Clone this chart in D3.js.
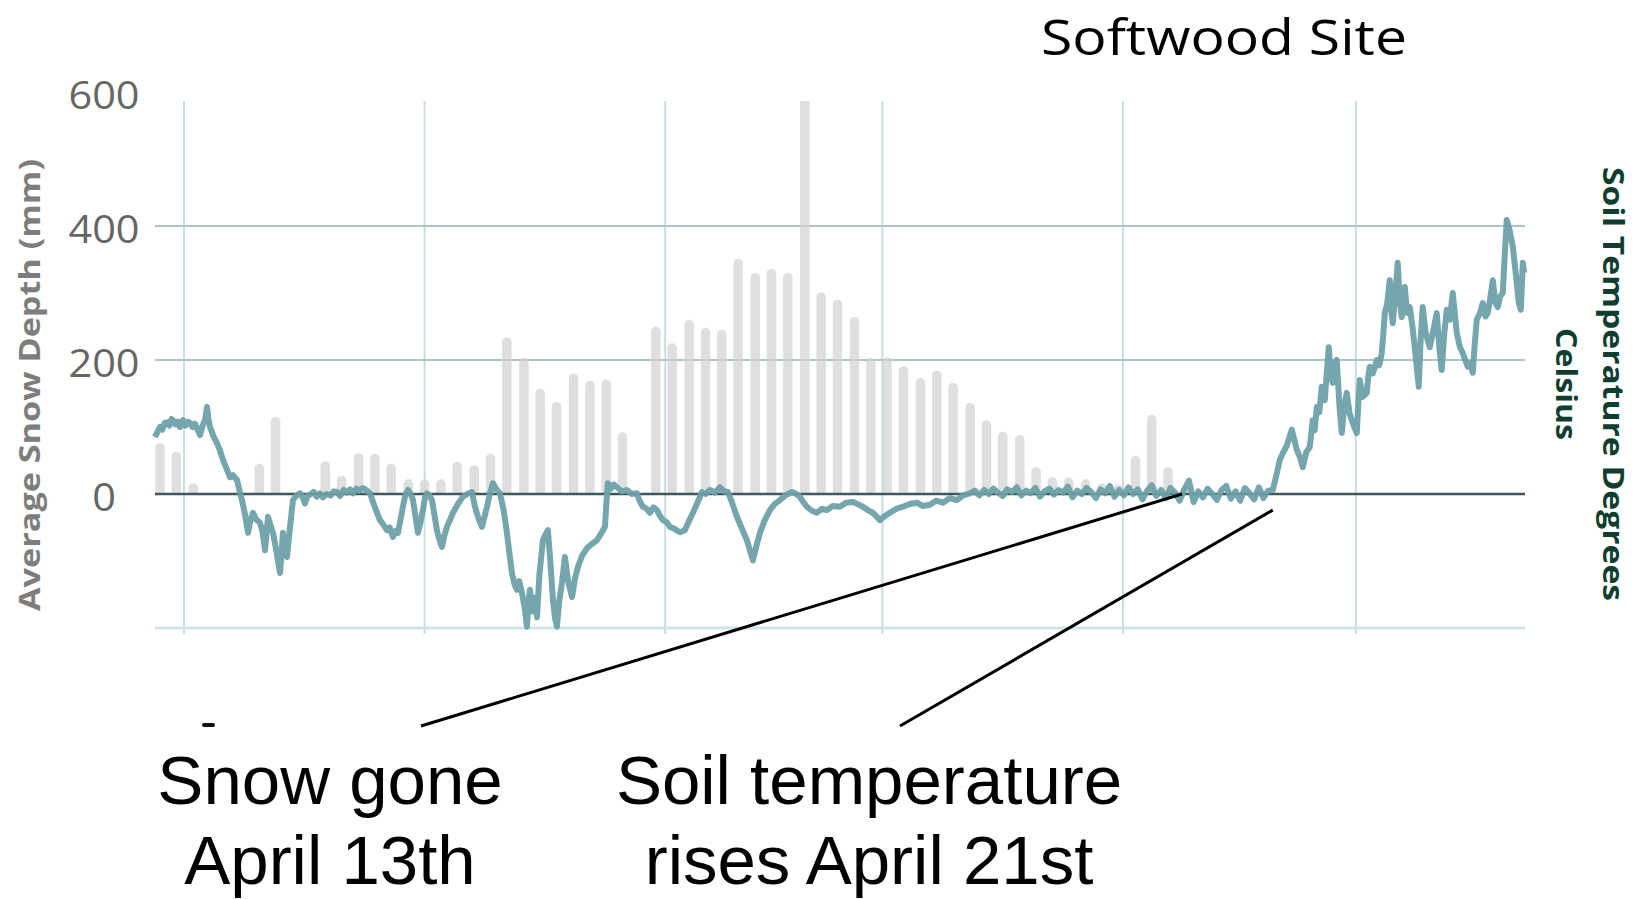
<!DOCTYPE html>
<html>
<head>
<meta charset="utf-8">
<script src="https://d3js.org/d3.v7.min.js"></script>
<style>
  html, body { margin: 0; padding: 0; background: #fff; }
  svg { display: block; }
</style>
</head>
<body>
<script>
// snow depth readings (days after Dec 1 2016, mm)
var snowDay = [-3.1, -1.0, 1.2, 9.7, 11.8,
  18.2, 20.3, 22.5, 24.6, 26.7, 28.9, 31.0, 33.1, 35.2, 37.4, 39.5, 41.6, 43.8, 45.9, 48.0, 50.2, 52.3, 54.4, 56.5,
  60.8, 62.9, 65.1, 67.2, 69.3, 71.4, 73.6, 75.7, 77.8, 80.0, 82.1, 84.2, 86.4, 88.5, 90.6, 92.7, 94.9, 97.0, 99.1,
  101.3, 103.4, 105.5, 107.7, 109.8, 111.9, 114.0, 116.2, 118.3, 120.4, 122.6, 124.7, 126.8, 129.0];
var snowDepth = [76, 63, 16, 45, 115,
  49, 27, 61, 60, 45, 22, 22, 22, 48, 43, 60, 234, 203, 157, 137, 180, 169, 171, 92,
  250, 225, 260, 248, 245, 351, 330, 336, 330, 640, 301, 290, 264, 203, 204, 191, 173, 184, 166,
  136, 110, 93, 88, 40, 25, 25, 22, 16, 14, 57, 118, 40, 12];

// soil temperature (days after Dec 1 2016, degrees C)
var soilDay = [-3.74, -3.45, -3.09, -2.80, -2.50, -2.19, -1.90, -1.60, -1.42, -1.10, -0.80, -0.52, -0.30, -0.13, 0.20, 0.50, 0.77, 1.10, 1.40, 1.67,
  2.06, 2.40, 2.70, 2.96, 3.15, 3.35, 3.80, 4.25, 4.60, 5.02, 5.40, 5.93, 6.30, 6.83, 7.15, 7.47, 7.85, 8.25, 8.55, 8.89,
  9.30, 9.79, 10.10, 10.44, 10.82, 11.10, 11.47, 11.90, 12.37, 12.75, 13.00, 13.27, 13.66, 14.04, 14.50, 14.94, 15.30, 15.59, 15.90, 16.23,
  16.70, 17.10, 17.50, 17.91, 18.40, 18.90, 19.30, 19.71, 20.10, 20.60, 21.00, 21.39, 21.80, 22.20, 22.60, 23.06, 23.50, 23.96, 24.60, 25.25,
  25.70, 26.15, 26.50, 26.93, 27.25, 27.57, 27.90, 28.21, 28.55, 28.86, 29.20, 29.50, 29.85, 30.15, 30.50, 30.79, 31.05, 31.31, 31.60, 31.95,
  32.25, 32.59, 32.90, 33.24, 33.55, 33.88, 34.30, 34.66, 35.30, 35.94, 36.50, 37.10, 37.49, 37.90, 38.39, 38.70, 39.04, 39.40, 39.81, 40.20,
  40.71, 41.20, 41.61, 41.95, 42.26, 42.60, 42.90, 43.20, 43.55, 43.90, 44.19, 44.40, 44.58, 44.90, 45.20, 45.48, 45.80, 46.25, 46.60, 46.89,
  47.20, 47.54, 47.80, 48.05, 48.35, 48.70, 49.08, 49.50, 49.99, 50.40, 50.76, 51.30, 51.92, 52.50, 53.21, 53.70, 54.24, 54.45, 54.62, 55.00,
  55.40, 55.78, 56.40, 57.07, 57.70, 58.36, 58.70, 59.13, 59.60, 60.04, 60.50, 60.94, 61.30, 61.71, 62.20, 62.61, 63.20, 63.90, 64.54, 65.00,
  65.58, 66.20, 66.74, 67.20, 67.77, 68.40, 69.05, 69.60, 70.09, 70.60, 71.24, 71.90, 72.53, 72.95, 73.31, 73.75, 74.21, 74.80, 75.50, 76.10,
  76.78, 77.50, 78.33, 78.90, 79.36, 79.80, 80.26, 80.90, 81.55, 82.20, 82.84, 83.60, 84.51, 85.30, 86.19, 86.80, 87.48, 88.10, 88.77, 89.20,
  89.67, 90.30, 90.96, 91.80, 92.63, 93.50, 94.43, 95.20, 96.11, 96.90, 97.78, 98.70, 99.59, 100.40, 101.26,
  101.9, 102.5, 103.1, 103.7, 104.3, 104.9, 105.5, 106.1, 106.7, 107.3, 107.9, 108.5, 109.1, 109.7, 110.3, 110.9, 111.5, 112.1, 112.7, 113.3,
  113.9, 114.5, 115.1, 115.7, 116.3, 116.9, 117.5, 118.1, 118.7, 119.3, 119.9, 120.5, 121.1, 121.7, 122.3, 122.9, 123.5, 124.1, 124.7, 125.3,
  125.9, 126.5, 127.1, 127.7, 128.3, 128.9, 129.5, 130.1, 130.7, 131.3, 131.9, 132.5, 133.1, 133.7, 134.3, 134.9, 135.5, 136.1, 136.7, 137.3,
  137.9, 138.5, 139.1, 139.7, 140.30,
  140.80, 141.20, 141.59, 142.10, 142.75, 143.39, 143.80, 144.16, 144.60, 145.06, 145.45, 145.70, 145.97, 146.30, 146.61, 147.00, 147.25, 147.51, 147.80, 148.03,
  148.30, 148.54, 148.90, 149.19, 149.50, 149.83, 150.20, 150.48, 150.80, 151.12, 151.30, 151.51, 151.90, 152.41, 152.60, 152.80, 153.20, 153.70, 154.00, 154.34,
  154.55, 154.73, 155.05, 155.37, 155.60, 155.76, 156.10, 156.40, 156.65, 156.92, 157.10, 157.31, 157.60, 157.95, 158.30, 158.59, 158.85, 159.11, 159.35, 159.62,
  160.00, 160.53, 161.00, 161.43, 161.75, 162.07, 162.40, 162.72, 163.10, 163.49, 163.75, 164.01, 164.40, 164.78, 165.10, 165.42, 165.75, 166.07, 166.30, 166.58,
  167.00, 167.36, 167.70, 168.00, 168.30, 168.65, 169.00, 169.29, 169.60, 169.94, 170.20, 170.45, 170.80, 171.23, 171.70, 172.00, 172.26, 172.52, 172.70];
var soilTemp = [0.85, 0.92, 1.00, 0.96, 1.06, 1.07, 1.02, 1.12, 1.10, 1.04, 1.08, 1.00, 1.08, 1.10, 1.02, 1.08, 1.06, 1.00, 1.05, 0.98,
  0.88, 1.02, 1.10, 1.30, 1.12, 1.00, 0.86, 0.76, 0.66, 0.51, 0.40, 0.25, 0.28, 0.21, 0.05, -0.09, -0.30, -0.58, -0.40, -0.28,
  -0.38, -0.43, -0.55, -0.84, -0.34, -0.45, -0.58, -0.85, -1.18, -0.58, -0.80, -0.94, -0.49, -0.09, -0.02, 0.01, -0.05, -0.14, -0.03, -0.01,
  0.03, -0.04, 0.01, -0.05, 0.00, -0.02, 0.04, 0.03, -0.03, 0.06, 0.02, 0.07, 0.01, 0.08, 0.05, 0.09, 0.06, 0.01, -0.20, -0.39,
  -0.46, -0.54, -0.50, -0.64, -0.55, -0.58, -0.38, -0.19, 0.00, 0.06, 0.00, -0.09, -0.35, -0.58, -0.40, -0.24, -0.05, 0.01, -0.02, -0.09,
  -0.30, -0.54, -0.68, -0.79, -0.62, -0.49, -0.38, -0.28, -0.15, -0.04, 0.00, 0.03, -0.19, -0.35, -0.49, -0.35, -0.19, 0.00, 0.16, 0.08,
  0.01, -0.25, -0.58, -0.90, -1.18, -1.35, -1.43, -1.30, -1.48, -1.70, -1.98, -1.60, -1.43, -1.75, -1.55, -1.84, -1.20, -0.69, -0.60, -0.54,
  -1.00, -1.58, -1.85, -1.98, -1.60, -1.33, -0.94, -1.30, -1.54, -1.25, -1.09, -0.92, -0.81, -0.75, -0.69, -0.60, -0.49, -0.10, 0.16, 0.08,
  0.14, 0.10, 0.04, 0.06, 0.00, 0.01, -0.10, -0.19, -0.22, -0.28, -0.20, -0.24, -0.32, -0.39, -0.42, -0.49, -0.52, -0.57, -0.54, -0.42,
  -0.28, -0.12, 0.03, 0.00, 0.06, 0.02, 0.10, 0.04, 0.03, -0.12, -0.34, -0.52, -0.69, -0.85, -0.99, -0.78, -0.58, -0.40, -0.24, -0.15,
  -0.09, -0.02, 0.03, 0.00, -0.04, -0.12, -0.19, -0.25, -0.28, -0.22, -0.24, -0.18, -0.19, -0.13, -0.12, -0.15, -0.19, -0.24, -0.28, -0.33,
  -0.39, -0.33, -0.28, -0.22, -0.19, -0.15, -0.13, -0.18, -0.16, -0.10, -0.13, -0.06, -0.09, -0.02, 0.01,
  0.05, -0.02, 0.06, 0.00, 0.08, 0.02, -0.03, 0.07, 0.03, 0.10, -0.02, 0.05, 0.01, 0.09, -0.04, 0.04, 0.08, -0.01, 0.06, 0.02,
  0.11, -0.05, 0.05, 0.00, 0.09, 0.03, -0.06, 0.07, 0.01, 0.12, -0.04, 0.06, -0.02, 0.10, 0.00, 0.07, -0.08, 0.05, 0.13, -0.03,
  0.06, -0.06, 0.09, 0.02, -0.10, 0.07, 0.20, -0.12, 0.04, -0.05, 0.08, 0.00, -0.09, 0.06, 0.12, -0.07, 0.04, -0.10, 0.09, 0.01,
  -0.08, 0.10, -0.06, 0.05, 0.06,
  0.30, 0.51, 0.61, 0.72, 0.96, 0.66, 0.55, 0.40, 0.62, 0.70, 1.10, 0.95, 1.30, 1.22, 1.60, 1.40, 1.80, 2.19, 1.75, 1.66,
  1.95, 2.00, 1.30, 0.91, 1.30, 1.51, 1.20, 1.10, 1.00, 0.91, 1.30, 1.70, 1.45, 1.51, 1.75, 1.90, 1.80, 2.00, 1.92, 2.10,
  2.40, 2.70, 2.85, 3.19, 2.70, 2.55, 3.00, 3.45, 2.90, 2.64, 3.00, 3.09, 2.70, 2.79, 2.50, 2.19, 1.90, 1.60, 2.30, 2.79,
  2.40, 2.19, 2.45, 2.70, 2.20, 1.85, 2.40, 2.75, 2.60, 3.00, 2.70, 2.40, 2.20, 2.10, 2.00, 1.90, 1.95, 1.81, 2.20, 2.60,
  2.70, 2.85, 2.65, 2.70, 2.90, 3.19, 2.85, 2.79, 2.95, 3.00, 3.60, 4.09, 3.95, 3.69, 3.20, 2.85, 2.75, 3.45, 3.30];

var depthTicks = [600, 400, 200, 0];
var gridDepths = [400, 200];

var START = new Date(2016, 11, 1);
function dayToDate(d) {
    return new Date(START.getTime() + d * 864e5);
}

var svg = d3.select("body")
        .append("svg")
        .attr("width", 1640)
        .attr("height", 899)
        .style("background-color", "white");

var x = d3.scaleTime()
        .domain([dayToDate(-3.74), dayToDate(172.8)])
        .range([155, 1525]);
var y = d3.scaleLinear().domain([-200, 600]).range([628, 92]);
var tempY = d3.scaleLinear().domain([-2, 6]).range([628, 92]);
var plotTop = 101;

svg.append("clipPath").attr("id", "plotclip")
        .append("rect")
        .attr("x", 150).attr("y", plotTop)
        .attr("width", 1380).attr("height", 540);

// vertical month gridlines
var months = d3.timeMonth.range(new Date(2016, 11, 1), new Date(2017, 4, 2));
svg.selectAll("line.vgrid")
        .data(months)
        .enter()
        .append("line")
        .attr("class", "vgrid")
        .attr("x1", function(d){ return x(d); })
        .attr("x2", function(d){ return x(d); })
        .attr("y1", plotTop)
        .attr("y2", y(-200) + 6)
        .attr("stroke", "#c8dee1")
        .attr("stroke-width", 2);

// horizontal gridlines
svg.selectAll("line.hgrid")
        .data(gridDepths)
        .enter()
        .append("line")
        .attr("class", "hgrid")
        .attr("x1", x.range()[0])
        .attr("x2", x.range()[1])
        .attr("y1", function(d){ return y(d); })
        .attr("y2", function(d){ return y(d); })
        .attr("stroke", "#aec5c7")
        .attr("stroke-width", 2);

svg.append("line")
        .attr("x1", x.range()[0]).attr("x2", x.range()[1])
        .attr("y1", y(-200)).attr("y2", y(-200))
        .attr("stroke", "#cde5e8")
        .attr("stroke-width", 3);

// snow depth bars, rounded tops
function barPath(cx, top, base, w) {
    var r = w / 2;
    if (base - top < r) top = base - r;
    return "M" + (cx - r) + "," + base + "V" + (top + r) +
           "A" + r + "," + r + " 0 0 1 " + (cx + r) + "," + (top + r) +
           "V" + base + "Z";
}
var bars = snowDay.map(function(d, i){ return {day: d, depth: snowDepth[i]}; });
svg.append("g")
        .attr("clip-path", "url(#plotclip)")
        .selectAll("path")
        .data(bars)
        .enter()
        .append("path")
        .attr("d", function(d){
            return barPath(x(dayToDate(d.day)), y(d.depth), y(0), 9.5);
        })
        .attr("fill", "#d2d2d2")
        .attr("fill-opacity", 0.72);

// zero line
svg.append("line")
        .attr("x1", x.range()[0]).attr("x2", x.range()[1])
        .attr("y1", y(0)).attr("y2", y(0))
        .attr("stroke", "#3e5959")
        .attr("stroke-width", 2.5);

// soil temperature line
var soil = soilDay.map(function(d, i){ return {day: d, temp: soilTemp[i]}; });
var line = d3.line()
        .x(function(d){ return x(dayToDate(d.day)); })
        .y(function(d){ return tempY(d.temp); });
svg.append("path")
        .datum(soil)
        .attr("d", line)
        .attr("fill", "none")
        .attr("stroke", "#6a9fa7")
        .attr("stroke-opacity", 0.93)
        .attr("stroke-width", 6)
        .attr("stroke-linejoin", "round");

// y tick labels
svg.selectAll("text.ytick")
        .data(depthTicks)
        .enter()
        .append("text")
        .attr("class", "ytick")
        .attr("x", 104)
        .attr("y", function(d){ return y(d); })
        .attr("dy", "0.45em")
        .attr("text-anchor", "middle")
        .attr("font-family", "'Open Sans', sans-serif")
        .attr("font-size", 38)
        .attr("fill", "#666666")
        .attr("textLength", function(d){ return String(d).length * 23.7; })
        .attr("lengthAdjust", "spacingAndGlyphs")
        .text(function(d){ return d; });

// axis titles
svg.append("text")
        .attr("transform", "translate(30,385) rotate(-90)")
        .attr("dy", "0.35em")
        .attr("text-anchor", "middle")
        .attr("font-family", "'Open Sans', sans-serif")
        .attr("font-weight", "bold")
        .attr("font-size", 29)
        .attr("fill", "#7d7d7d")
        .attr("textLength", 452)
        .attr("lengthAdjust", "spacingAndGlyphs")
        .text("Average Snow Depth (mm)");

svg.append("text")
        .attr("transform", "translate(1613,384) rotate(90)")
        .attr("dy", "0.35em")
        .attr("text-anchor", "middle")
        .attr("font-family", "'Open Sans', sans-serif")
        .attr("font-weight", "bold")
        .attr("font-size", 28)
        .attr("fill", "#0f3e30")
        .attr("textLength", 434)
        .attr("lengthAdjust", "spacingAndGlyphs")
        .text("Soil Temperature Degrees");

svg.append("text")
        .attr("transform", "translate(1566,384) rotate(90)")
        .attr("dy", "0.35em")
        .attr("text-anchor", "middle")
        .attr("font-family", "'Open Sans', sans-serif")
        .attr("font-weight", "bold")
        .attr("font-size", 28)
        .attr("fill", "#0f3e30")
        .attr("textLength", 112)
        .attr("lengthAdjust", "spacingAndGlyphs")
        .text("Celsius");

// chart title
svg.append("text")
        .attr("x", 1041)
        .attr("y", 55)
        .attr("font-family", "'Open Sans', sans-serif")
        .attr("font-size", 50)
        .attr("fill", "#000")
        .attr("textLength", 366)
        .attr("lengthAdjust", "spacingAndGlyphs")
        .text("Softwood Site");

// annotations
var notes = [
    {lines: ["Snow gone", "April 13th"], cx: 330, day: 128.6, temp: 0, lx: 421},
    {lines: ["Soil temperature", "rises April 21st"], cx: 869, day: 140.3, temp: -0.24, lx: 900}
];
notes.forEach(function(n){
    svg.append("line")
            .attr("x1", n.lx).attr("y1", 726)
            .attr("x2", x(dayToDate(n.day))).attr("y2", tempY(n.temp))
            .attr("stroke", "#000")
            .attr("stroke-width", 3);
    n.lines.forEach(function(t, i){
        svg.append("text")
                .attr("x", n.cx)
                .attr("y", 804 + i * 80)
                .attr("text-anchor", "middle")
                .attr("font-family", "'Liberation Sans', Arial, sans-serif")
                .attr("font-size", 69)
                .attr("fill", "#000")
                .text(t);
    });
});

// small stray mark left of the first annotation
svg.append("line")
        .attr("x1", 204).attr("x2", 213)
        .attr("y1", 725).attr("y2", 725)
        .attr("stroke", "#111")
        .attr("stroke-width", 4)
        .attr("stroke-linecap", "round");
</script>
</body>
</html>
